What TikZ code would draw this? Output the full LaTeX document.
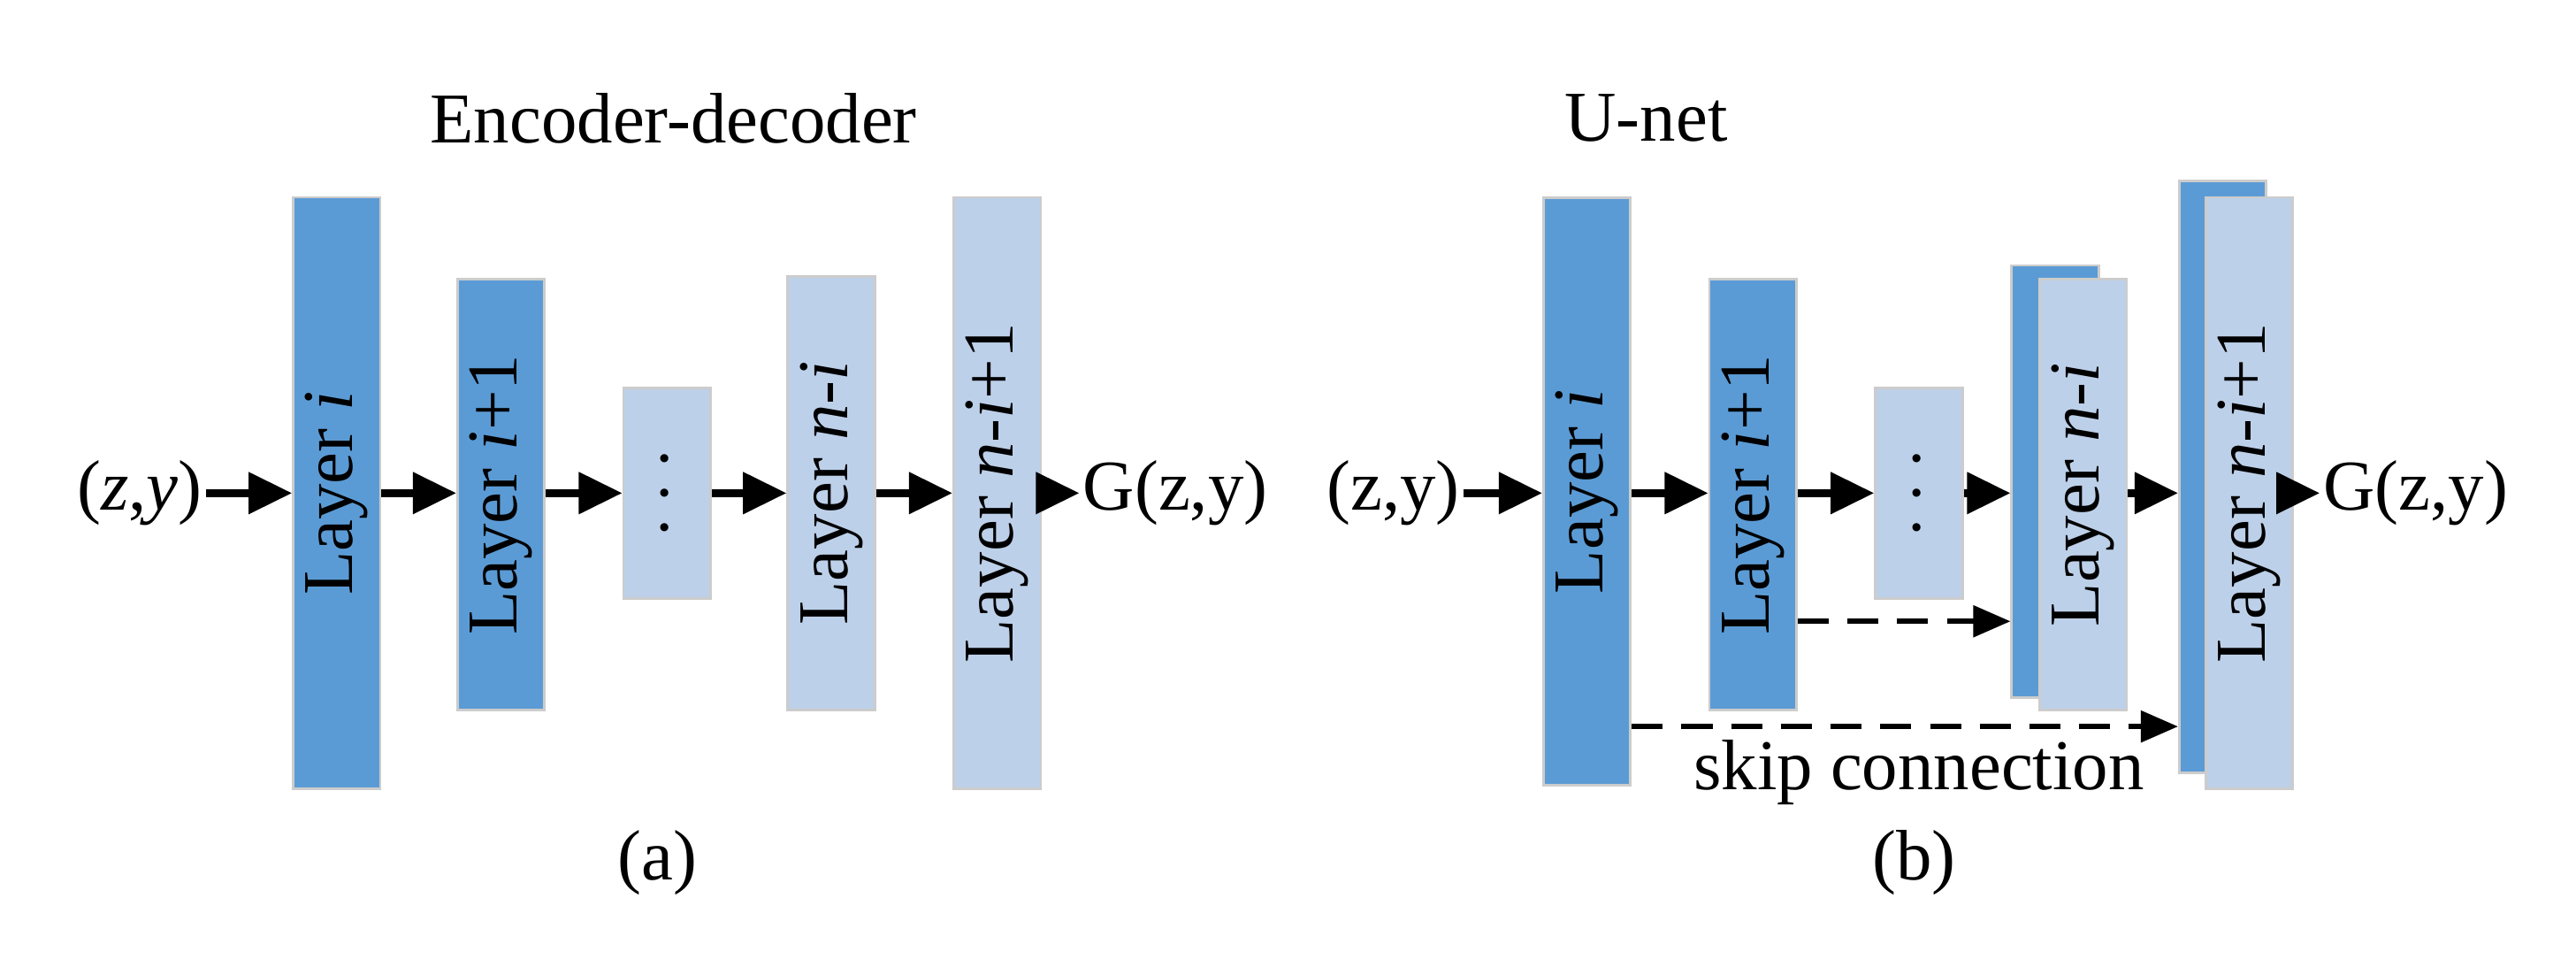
\documentclass[tikz,border=0pt]{standalone}
\usepackage{fontspec}
\setmainfont{Liberation Serif}
\usetikzlibrary{arrows.meta}
\definecolor{darkb}{HTML}{5B9BD5}
\definecolor{lightb}{HTML}{BDD0E9}
\begin{document}
\begin{tikzpicture}[x=0.01858cm,y=-0.01858cm,
  lay/.style={rotate=90,draw=gray!40,line width=0.8pt,minimum height=0.985cm,inner sep=0pt,font=\fontsize{23}{26}\selectfont},
  dk/.style={lay,fill=darkb},
  lt/.style={lay,fill=lightb},
  txt/.style={font=\fontsize{23}{26}\selectfont,inner sep=1pt},
  ar/.style={-{Triangle[length=14pt,width=13pt]},line width=2.4pt},
  da/.style={-{Triangle[length=12pt,width=10pt]},dash pattern=on 10pt off 6pt,line width=1.6pt}]
  \useasboundingbox (0,0) rectangle (1568,593);
  % (a) encoder-decoder
  \node[txt] at (410,72) {Encoder-decoder};
  \node[txt] (in) at (85,300) {(\textit{z},\textit{y})};
  \node[dk,minimum width=6.69cm] (l1) at (205,300) {Layer \textit{i}};
  \node[dk,minimum width=4.87cm] (l2) at (305,301) {Layer \textit{i}+1};
  \node[lt,minimum width=2.38cm] (l3) at (406,300) {$\cdots$};
  \node[lt,minimum width=4.9cm] (l4) at (506,300) {Layer \textit{n}-\textit{i}};
  \node[lt,minimum width=6.69cm] (l5) at (607,300) {Layer \textit{n}-\textit{i}+1};
  \node[txt,anchor=west] (out) at (657,300) {G(z,y)};
  \node[txt] at (400,525) {(a)};
  \draw[ar] (in) -- (l1.north |- in);
  \draw[ar] (l1.south |- in) -- (l2.north |- in);
  \draw[ar] (l2.south |- in) -- (l3.north |- in);
  \draw[ar] (l3.south |- in) -- (l4.north |- in);
  \draw[ar] (l4.south |- in) -- (l5.north |- in);
  \draw[ar] (l5.south |- in) -- (out);
  % (b) u-net
  \node[txt] at (1002,72) {U-net};
  \node[txt] (uin) at (848,300) {(z,y)};
  \node[dk,minimum width=6.65cm] (u1) at (966,299) {Layer \textit{i}};
  \node[dk,minimum width=4.87cm] (u2) at (1067,301) {Layer \textit{i}+1};
  \node[lt,minimum width=2.38cm] (u3) at (1168,300) {\textbf{$\cdots$}};
  \node[dk,minimum width=4.89cm] (u4b) at (1251,293) {};
  \node[lt,minimum width=4.87cm] (u4) at (1268,301) {Layer \textit{n}-\textit{i}};
  \node[dk,minimum width=6.69cm] (u5b) at (1353,290) {};
  \node[lt,minimum width=6.69cm] (u5) at (1369,300) {Layer \textit{n}-\textit{i}+1};
  \node[txt,anchor=west] (uout) at (1412,300) {G(z,y)};
  \node[txt] at (1165,525) {(b)};
  \draw[ar] (uin) -- (u1.north |- uin);
  \draw[ar] (u1.south |- uin) -- (u2.north |- uin);
  \draw[ar] (u2.south |- uin) -- (u3.north |- uin);
  \draw[ar] (u3.south |- uin) -- (u4b.north |- uin);
  \draw[ar] (u4.south |- uin) -- (u5b.north |- uin);
  \draw[ar] (u5.south |- uin) -- (uout);
  \draw[da] (u2.south |- 0,378) -- (u4b.north |- 0,378);
  \draw[da] (u1.south |- 0,442) -- (u5b.north |- 0,442);
  \node[txt] at (1168,470) {skip connection};
\end{tikzpicture}
\end{document}
